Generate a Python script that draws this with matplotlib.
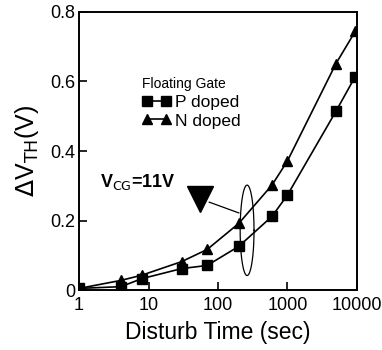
import matplotlib
matplotlib.use("Agg")
import matplotlib.pyplot as plt
from matplotlib.lines import Line2D
import numpy as np

plt.rcParams['font.family'] = ['Liberation Sans', 'DejaVu Sans']

# disturb time (sec)
t_p = [1, 4, 8, 30, 70, 200, 600, 1000, 5000, 9500]
dv_p = [0.005, 0.010, 0.033, 0.062, 0.071, 0.126, 0.212, 0.273, 0.514, 0.614]

t_n = [1, 4, 8, 30, 70, 200, 600, 1000, 5000, 9500]
dv_n = [0.005, 0.028, 0.043, 0.082, 0.117, 0.192, 0.302, 0.371, 0.651, 0.744]

xticks = [1, 10, 100, 1000, 10000]
xticklabels = ["1", "10", "100", "1000", "10000"]
yticks = [0, 0.2, 0.4, 0.6, 0.8]
yticklabels = ["0", "0.2", "0.4", "0.6", "0.8"]

fig = plt.figure(figsize=(3.82, 3.5), dpi=100)
ax = fig.add_axes([0.207, 0.171, 0.727, 0.795])

ax.plot(t_p, dv_p, color="black", lw=1.2, marker="s", ms=6.5)
ax.plot(t_n, dv_n, color="black", lw=1.2, marker="^", ms=7)

ax.set_xscale("log")
ax.set_xlim(1, 10000)
ax.set_ylim(0, 0.8)
ax.set_xticks(xticks)
ax.set_xticklabels(xticklabels)
ax.set_yticks(yticks)
ax.set_yticklabels(yticklabels)
ax.minorticks_off()
ax.tick_params(direction="in", length=6, width=1.2, labelsize=13, pad=3)
ax.tick_params(axis="x", pad=5)
for s in ax.spines.values():
    s.set_linewidth(1.4)

ax.set_xlabel("Disturb Time (sec)", fontsize=16.5, labelpad=5)
ax.set_ylabel(r"$\Delta$V$_{\rm TH}$(V)", fontsize=18, labelpad=6)

# legend
h1 = Line2D([], [], color="black", lw=1.2, marker="s", ms=6.5)
h2 = Line2D([], [], color="black", lw=1.2, marker="^", ms=7)
leg = ax.legend([h1, h2], ["P doped", "N doped"], title="Floating Gate",
                numpoints=2, frameon=False, fontsize=12.5, title_fontsize=10,
                loc="upper left", bbox_to_anchor=(0.2, 0.79),
                handlelength=1.7, handletextpad=0.2, labelspacing=0.2,
                alignment="left", borderaxespad=0)

# annotation: ellipse around the 200-300 s region, big triangle, pointer line
th = np.linspace(0, 2 * np.pi, 200)
cx = np.log10(263)
ax.plot(10 ** (cx + 0.1 * np.cos(th)), 0.172 + 0.13 * np.sin(th),
        color="black", lw=0.9)

ax.plot([55], [0.262], marker="v", ms=19, color="black")
ax.plot([75, 200], [0.253, 0.222], color="black", lw=0.9)
ax.text(2.0, 0.31, r"V$_{\rm CG}$=11V", fontsize=13, fontweight="bold",
        va="center", ha="left")

fig.savefig("out.png", dpi=100)
